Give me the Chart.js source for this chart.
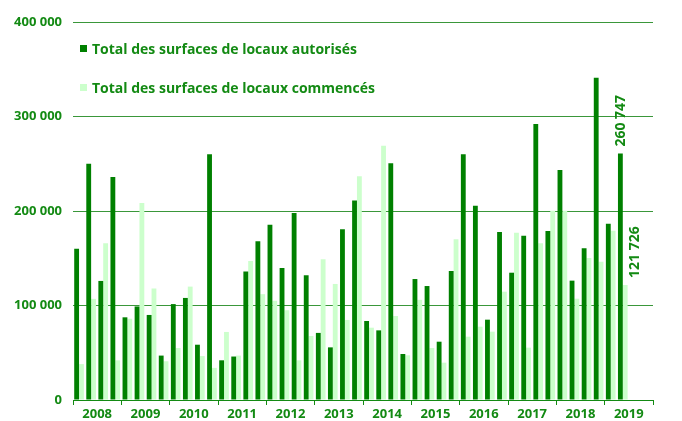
<!DOCTYPE html>
<html>
<head>
<meta charset="utf-8">
<script src="https://cdn.jsdelivr.net/npm/chart.js@4"></script>
<style>
  body { margin: 0; background: #fff; }
  #wrap { position: relative; width: 682px; height: 421px; }
  #legend { position: absolute; left: 80px; top: 38px; font: bold 14px 'Open Sans', sans-serif; color: #138a13; }
  #legend .row { display: flex; align-items: center; height: 20px; margin-bottom: 19px; white-space: nowrap; }
  #legend .box { width: 7px; height: 7px; margin-right: 5px; }
</style>
</head>
<body>
<div id="wrap">
  <canvas id="surfChart"></canvas>
  <div id="legend"></div>
</div>
<script>
// Data (m², par trimestre)
const years = ['2008', '2009', '2010', '2011', '2012', '2013', '2014', '2015', '2016', '2017', '2018', '2019'];
const quarters = ['T1', 'T2', 'T3', 'T4'];

const autorises = [
  160000, 250000, 126000, 236000,
  87500, 99000, 90000, 47000,
  101500, 108000, 58500, 260000,
  42000, 46000, 136000, 168000,
  185500, 139700, 198000, 132000,
  71000, 55700, 180600, 211000,
  83600, 73700, 250400, 48700,
  128000, 120600, 61700, 136500,
  260000, 205600, 85000, 177800,
  134700, 173900, 292000, 178800,
  243400, 126300, 160500, 341000,
  186600, 260747, null, null
];

const commences = [
  38000, 107000, 166000, 42000,
  86000, 208500, 118000, 41000,
  55000, 120000, 46500, 34000,
  72000, 47000, 147000, 112000,
  105000, 95000, 42000, 67700,
  149000, 122800, 84700, 236700,
  76500, 269000, 88900, 47300,
  106000, 55000, 39500, 170000,
  67000, 77600, 72300, 114600,
  177000, 55400, 165800, 200300,
  200300, 107200, 150300, 146400,
  179200, 121726, null, null
];

const labels = years.flatMap(y => quarters.map(q => q + ' ' + y));

const green = '#138a13';
const FONT = "'Open Sans', sans-serif";

function fmt(v) {
  return String(v).replace(/\B(?=(\d{3})+(?!\d))/g, ' ');
}

// vertical labels on the last filled quarter
const lastLabels = {
  id: 'lastLabels',
  afterDatasetsDraw(chart) {
    const ctx = chart.ctx;
    const offsets = [1, 10];
    chart.data.datasets.forEach((ds, di) => {
      let idx = -1;
      ds.data.forEach((v, i) => { if (v != null) idx = i; });
      if (idx < 0) return;
      const bar = chart.getDatasetMeta(di).data[idx];
      ctx.save();
      ctx.translate(bar.x + offsets[di], bar.y - 7);
      ctx.rotate(-Math.PI / 2);
      ctx.fillStyle = green;
      ctx.font = 'bold 14px ' + FONT;
      ctx.textAlign = 'left';
      ctx.textBaseline = 'middle';
      ctx.fillText(fmt(ds.data[idx]), 0, 0);
      ctx.restore();
    });
  }
};

const chart = new Chart(document.getElementById('surfChart').getContext('2d'), {
  type: 'bar',
  data: {
    labels: labels,
    datasets: [
      {
        label: 'Total des surfaces de locaux autorisés',
        data: autorises,
        backgroundColor: '#008000',
        categoryPercentage: 0.8,
        barPercentage: 1
      },
      {
        label: 'Total des surfaces de locaux commencés',
        data: commences,
        backgroundColor: '#ccffcc',
        categoryPercentage: 0.8,
        barPercentage: 1
      }
    ]
  },
  options: {
    responsive: true,
    maintainAspectRatio: false,
    animation: false,
    layout: { padding: { top: 22, right: 29, left: 0, bottom: 0 } },
    plugins: {
      legend: { display: false },
      tooltip: { enabled: false }
    },
    scales: {
      x: {
        afterFit: s => { s.height = 21; },
        border: { color: green, width: 1 },
        grid: {
          offset: true,
          drawOnChartArea: false,
          tickLength: 5,
          color: c => (c.index === undefined || c.index % 4 === 0) ? green : 'rgba(0,0,0,0)'
        },
        ticks: {
          autoSkip: false,
          maxRotation: 0,
          minRotation: 0,
          padding: 1,
          labelOffset: 6,
          color: green,
          font: { family: FONT, weight: 'bold', size: 13 },
          callback: (v, i) => i % 4 === 1 ? years[Math.floor(i / 4)] : ''
        }
      },
      y: {
        min: 0,
        max: 400000,
        afterFit: s => { s.width = 73; },
        border: { display: false },
        grid: { color: '#3a973a', drawTicks: false },
        ticks: {
          stepSize: 100000,
          padding: 11,
          color: green,
          font: { family: FONT, weight: 'bold', size: 13 },
          callback: v => fmt(v)
        }
      }
    }
  },
  plugins: [lastLabels]
});

// legend built from the datasets
const legend = document.getElementById('legend');
chart.data.datasets.forEach(ds => {
  const row = document.createElement('div');
  row.className = 'row';
  const box = document.createElement('span');
  box.className = 'box';
  box.style.background = ds.backgroundColor;
  const txt = document.createElement('span');
  txt.textContent = ds.label;
  row.appendChild(box);
  row.appendChild(txt);
  legend.appendChild(row);
});
</script>
</body>
</html>
